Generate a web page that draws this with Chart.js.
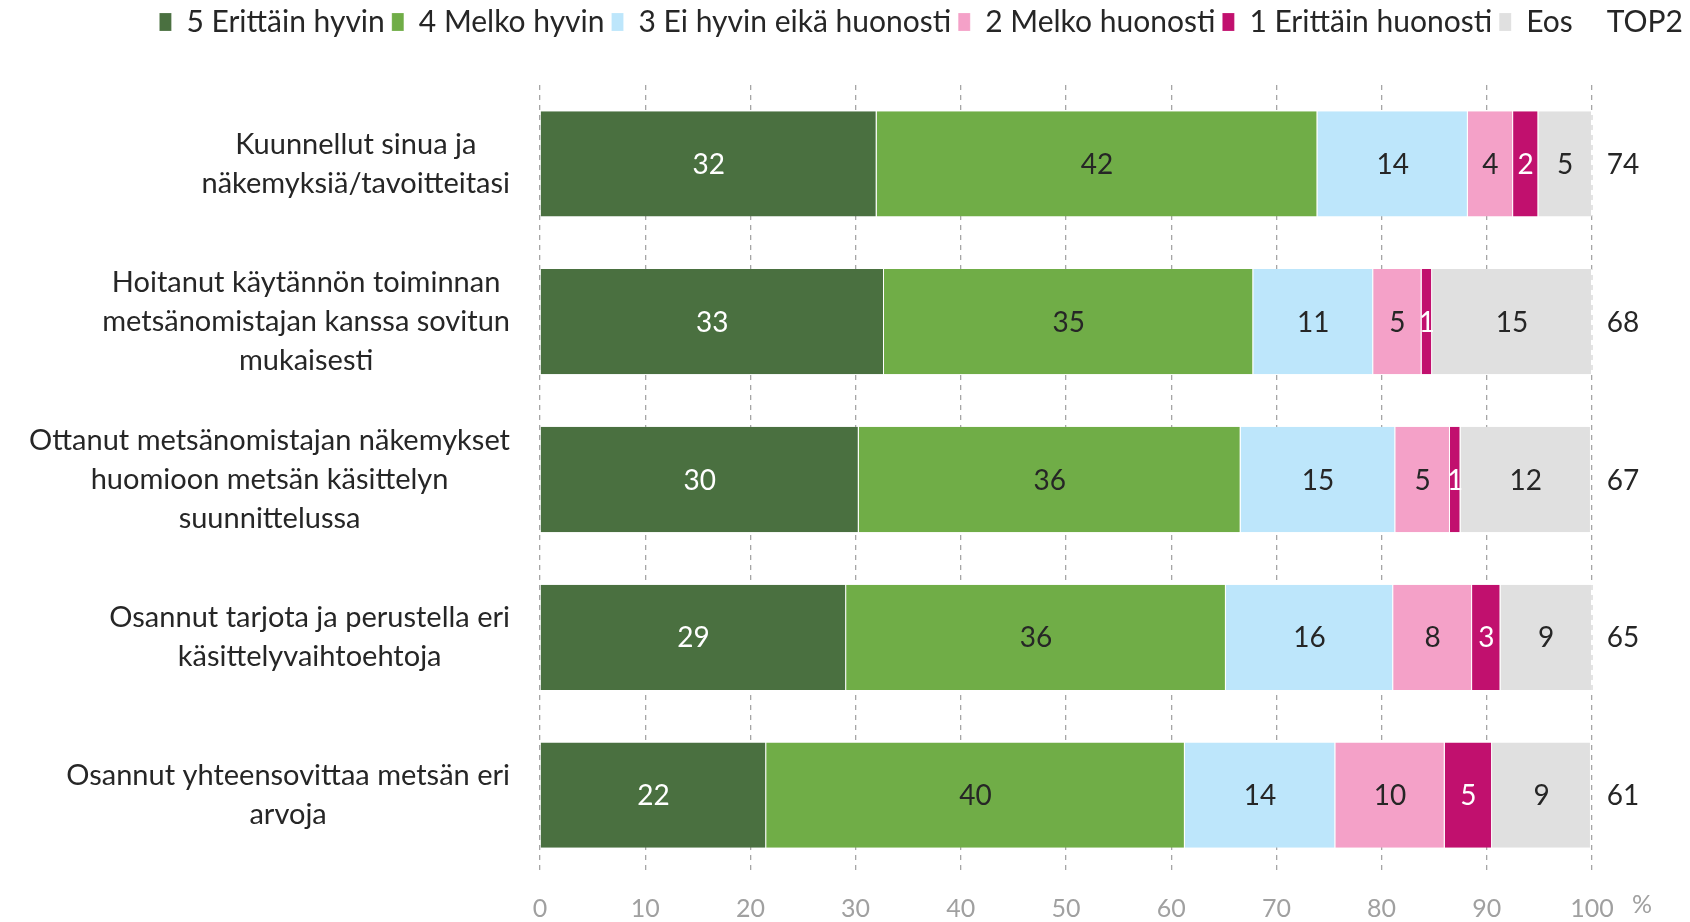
<!DOCTYPE html>
<html>
<head>
<meta charset="utf-8">
<script src="https://cdn.jsdelivr.net/npm/chart.js@4"></script>
<style>
  html, body { margin: 0; padding: 0; background: #fff; }
  #wrap { width: 1690px; height: 922px; }
</style>
</head>
<body>
<div id="wrap"><canvas id="kuva"></canvas></div>
<script>
// kysymykset (rivit)
const categories = [
    ["Kuunnellut sinua ja", "näkemyksiä/tavoitteitasi"],
    ["Hoitanut käytännön toiminnan", "metsänomistajan kanssa sovitun", "mukaisesti"],
    ["Ottanut metsänomistajan näkemykset", "huomioon metsän käsittelyn", "suunnittelussa"],
    ["Osannut tarjota ja perustella eri", "käsittelyvaihtoehtoja"],
    ["Osannut yhteensovittaa metsän eri", "arvoja"]
];

const seriesNames = ["5 Erittäin hyvin", "4 Melko hyvin", "3 Ei hyvin eikä huonosti",
    "2 Melko huonosti", "1 Erittäin huonosti", "Eos"];

// osuudet % (luettu kuvasta)
const s5 = [32.0, 32.7, 30.3, 29.1, 21.5];
const s4 = [41.9, 35.1, 36.3, 36.1, 39.8];
const s3 = [14.3, 11.4, 14.7, 15.9, 14.3];
const s2 = [4.3, 4.6, 5.2, 7.5, 10.4];
const s1 = [2.4, 1.0, 1.0, 2.7, 4.5];
const eos = [5.1, 15.2, 12.4, 8.7, 9.4];

const top2 = [74, 68, 67, 65, 61];
const xTicks = [0, 10, 20, 30, 40, 50, 60, 70, 80, 90, 100];

const colors = ["#4a7040", "#70ad47", "#bde6fb", "#f4a1c8", "#c1106e", "#e0e0e0"];
const labelColors = ["#ffffff", "#262626", "#262626", "#262626", "#ffffff", "#262626"];

const FONT = "Lato";

const values = [s5, s4, s3, s2, s1, eos];
const datasets = values.map((v, i) => ({
    label: seriesNames[i],
    data: v,
    backgroundColor: colors[i],
    borderColor: "rgba(255,255,255,0.7)",
    borderWidth: { right: 1 },
    borderSkipped: false,
    barPercentage: 0.667,
    categoryPercentage: 1.0
}));
// TOP2 otsikko legendaan
datasets.push({ label: "TOP2", data: [], backgroundColor: "rgba(0,0,0,0)" });

// segmenttien arvot, kategoriat ja TOP2
const textPlugin = {
    id: "texts",
    afterDatasetsDraw(chart) {
        const ctx = chart.ctx;
        const y = chart.scales.y;
        const area = chart.chartArea;
        ctx.save();
        ctx.textBaseline = "middle";

        ctx.font = "28px " + FONT;
        ctx.textAlign = "center";
        values.forEach((v, di) => {
            const meta = chart.getDatasetMeta(di);
            meta.data.forEach((bar, i) => {
                ctx.fillStyle = labelColors[di];
                ctx.fillText(Math.round(v[i]), (bar.x + bar.base) / 2, bar.y + 1);
            });
        });

        ctx.fillStyle = "#262626";
        top2.forEach((t, i) => {
            ctx.fillText(t, area.right + 31, y.getPixelForValue(i) + 1);
        });

        ctx.font = "29px " + FONT;
        const lineH = 39;
        const rightX = area.left - 30;
        categories.forEach((lines, i) => {
            const w = Math.max(...lines.map(l => ctx.measureText(l).width));
            const cx = rightX - w / 2;
            const cy = y.getPixelForValue(i);
            lines.forEach((l, k) => {
                ctx.fillText(l, cx, cy + (k - (lines.length - 1) / 2) * lineH);
            });
        });

        ctx.fillStyle = "#a0a0a0";
        ctx.font = "25px " + FONT;
        ctx.fillText("%", area.right + 50, area.bottom + 31);
        ctx.restore();
    }
};

new Chart(document.getElementById("kuva"), {
    type: "bar",
    data: { labels: categories, datasets: datasets },
    plugins: [textPlugin],
    options: {
        indexAxis: "y",
        responsive: true,
        maintainAspectRatio: false,
        animation: false,
        layout: { padding: 0 },
        scales: {
            x: {
                stacked: true,
                min: 0,
                max: 100,
                afterBuildTicks: s => { s.ticks = xTicks.map(v => ({ value: v })); },
                afterFit: s => { s.height = 48; },
                grid: { color: "#a6a6a6", lineWidth: 1.3, drawTicks: false },
                border: { display: false, dash: [5, 5] },
                ticks: { color: "#a0a0a0", font: { family: FONT, size: 25 }, padding: 20 }
            },
            xTop: {
                position: "top",
                display: true,
                grid: { display: false },
                border: { display: false },
                ticks: { display: false },
                afterFit: s => { s.height = 38; }
            },
            y: {
                stacked: true,
                grid: { display: false },
                border: { display: false },
                ticks: { display: false },
                afterFit: s => { s.width = 540; }
            },
            yRight: {
                position: "right",
                display: true,
                grid: { display: false },
                border: { display: false },
                ticks: { display: false },
                afterFit: s => { s.width = 98; }
            }
        },
        plugins: {
            legend: {
                position: "top",
                align: "end",
                labels: {
                    color: "#262626",
                    font: { family: FONT, size: 30 },
                    boxWidth: 12,
                    boxHeight: 18,
                    padding: 7
                }
            },
            tooltip: { enabled: false }
        }
    }
});
</script>
</body>
</html>
